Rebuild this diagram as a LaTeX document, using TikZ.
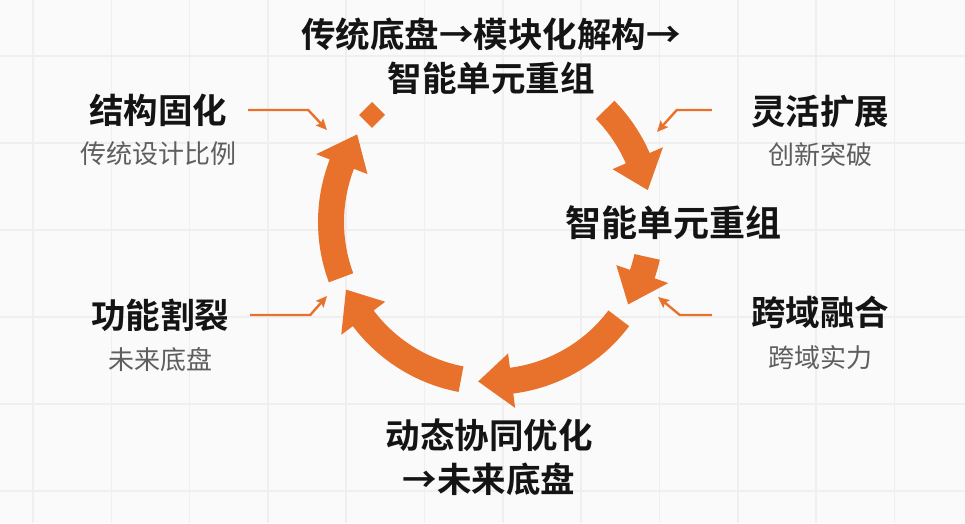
\documentclass[tikz,border=0pt]{standalone}
\usepackage{fontspec}
\setmainfont{Noto Sans CJK SC}[BoldFont={Noto Sans CJK SC Bold}]
\usetikzlibrary{arrows.meta,calc,shapes.geometric}
\definecolor{ringorange}{HTML}{E8722B}
\definecolor{subgray}{HTML}{5E5E5E}
\definecolor{gridgray}{HTML}{EFEFEF}
\tikzset{
  ring/.style={fill=ringorange},
  head/.style={font=\bfseries\fontsize{34.5}{44}\selectfont, text=black!92, align=center, inner sep=1pt},
  side/.style={font=\bfseries\fontsize{34.5}{40}\selectfont, text=black!92, inner sep=1pt},
  sub/.style={font=\fontsize{26}{30}\selectfont, text=subgray, inner sep=1pt},
  pointer/.style={draw=ringorange, line width=2.4pt, -{Stealth[length=11pt,width=10pt,inset=2pt]}},
  gridline/.style={draw=gridgray, line width=1.6pt},
}
% thick ring segment: start angle, tip angle (clockwise)
\newcommand{\ringarrow}[2]{%
  \fill[ring] ($(hub)+(#1:173)$) arc[start angle=#1, end angle={#2+12}, radius=173]
    -- ($(hub)+({#2+12}:187.5)$) -- ($(hub)+(#2:160)$) -- ($(hub)+({#2+12}:132.5)$)
    -- ($(hub)+({#2+12}:147)$) arc[start angle={#2+12}, end angle=#1, radius=147] -- cycle;}

\begin{document}
\begin{tikzpicture}[x=1pt, y=1pt]
  \useasboundingbox (0,0) rectangle (965,523);
  \fill[white!98!black] (0,0) rectangle (965,523);
  \foreach \gx in {0,...,11}
    \draw[gridline] ({33+78.3*\gx},0) -- ++(0,523);
  \foreach \gy in {0,...,5}
    \draw[gridline] (0,{467-87*\gy}) -- ++(965,0);

  \coordinate (hub) at (491,301);
  \ringarrow{44.5}{11.5}
  \ringarrow{-12.6}{-31}
  \ringarrow{-37}{-94.6}
  \ringarrow{-100.8}{-155}
  \ringarrow{200.4}{146.8}
  \node[diamond, ring, minimum size=26pt, inner sep=0pt] (dot) at ($(hub)+(138:160)$) {};

  \node[head] (top) at (491,467) {传统底盘→模块化解构→\\智能单元重组};
  \node[head, font=\bfseries\fontsize{36}{44}\selectfont] (mid) at (673,300) {智能单元重组};
  \node[head] (bot) at (489,66) {动态协同优化\\→未来底盘};

  \node[side] (solid) at (158,413) {结构固化};
  \node[sub] (solidsub) at (158,369) {传统设计比例};
  \node[side] (split) at (160,208) {功能割裂};
  \node[sub] (splitsub) at (160,163) {未来底盘};
  \node[side] (flex) at (820,411) {灵活扩展};
  \node[sub] (flexsub) at (820,368) {创新突破};
  \node[side] (cross) at (820,211) {跨域融合};
  \node[sub] (crosssub) at (820,165) {跨域实力};

  \coordinate (pA) at (327,393);
  \coordinate (pB) at (657,391);
  \coordinate (pC) at (658,226);
  \coordinate (pD) at (327,227);
  \draw[pointer] ([xshift=20pt]solid.east) -- ++(60,0) -- (pA);
  \draw[pointer] ([xshift=-38pt]flex.west |- 0,413) -- ++(-35,0) -- (pB);
  \draw[pointer] ([xshift=-38pt]cross.west |- 0,208) -- ++(-32,0) -- (pC);
  \draw[pointer] ([xshift=20pt]split.east |- 0,208) -- ++(60,0) -- (pD);
\end{tikzpicture}
\end{document}
